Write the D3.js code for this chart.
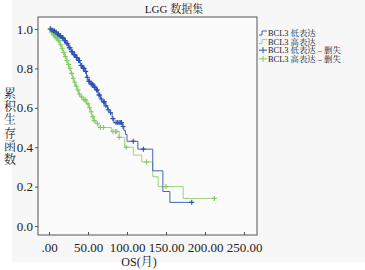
<!DOCTYPE html>
<html>
<head>
<meta charset="utf-8">
<script src="https://cdn.jsdelivr.net/npm/d3@7"></script>
<style>
  body { margin: 0; background: #fff; }
  svg { display: block; font-family: "Liberation Serif", "Noto Serif CJK SC", "Noto Sans CJK SC", serif; }
</style>
</head>
<body>
<svg id="chart" width="365" height="270"></svg>
<script>
// KM steps, low expression (time, survival after the drop)
const lowTimes = [0, 3, 5, 8, 10, 13, 16, 19, 22, 25, 28, 31, 34, 37, 40, 43, 46, 48, 50, 53, 57, 60, 63, 66, 68, 72, 75, 78, 81, 83, 94, 96, 98, 100, 114, 133, 146, 155];
const lowSurv = [1.0, 0.995, 0.99, 0.985, 0.975, 0.965, 0.955, 0.94, 0.925, 0.905, 0.885, 0.87, 0.855, 0.84, 0.815, 0.8, 0.785, 0.755, 0.735, 0.72, 0.705, 0.69, 0.665, 0.645, 0.63, 0.61, 0.59, 0.575, 0.545, 0.525, 0.505, 0.485, 0.465, 0.43, 0.39, 0.28, 0.175, 0.12];
const lowEnd = 183;
const lowCensor = [2, 4, 6, 7, 9, 11, 12, 14, 15, 17, 18, 20, 21, 23, 24, 26, 27, 29, 30, 32, 33, 35, 36, 38, 39, 41, 42, 44, 45, 47, 49, 51, 52, 54, 55, 56, 58, 59, 61, 62, 64, 65, 67, 70, 71, 73, 76, 79, 82, 86, 88, 90, 92, 93, 95, 108, 121, 183];

// KM steps, high expression
const highTimes = [0, 3, 6, 9, 11, 14, 16, 18, 20, 22, 24, 26, 28, 30, 32, 34, 36, 38, 40, 44, 48, 51, 53, 55, 57, 60, 64, 80, 90, 97, 108, 119, 133, 140, 172];
const highSurv = [1.0, 0.985, 0.97, 0.955, 0.94, 0.92, 0.9, 0.88, 0.86, 0.84, 0.82, 0.8, 0.775, 0.75, 0.73, 0.71, 0.69, 0.67, 0.655, 0.64, 0.62, 0.6, 0.58, 0.555, 0.535, 0.52, 0.5, 0.48, 0.45, 0.4, 0.36, 0.325, 0.25, 0.2, 0.14];
const highEnd = 212;
const highCensor = [1, 2, 3, 4, 5, 6, 7, 8, 9, 10, 12, 13, 15, 17, 19, 21, 23, 25, 27, 29, 31, 33, 35, 37, 39, 42, 45, 47, 50, 52, 54, 56, 58, 62, 66, 70, 82, 85, 87, 90, 99, 125, 150, 212];

const xTicks = [0, 50, 100, 150, 200, 250];
const yTicks = [0, 0.2, 0.4, 0.6, 0.8, 1.0];
const legendLabels = ["BCL3 低表达", "BCL3 高表达", "BCL3 低表达 – 删失", "BCL3 高表达 – 删失"];

const blue = "#3f63bd", blueMark = "#2b50b2";
const green = "#98d37a", greenMark = "#82c963";

const frame = { left: 38, top: 17, right: 257, bottom: 235 };

const svg = d3.select("#chart");

svg.append("rect").attr("x", 12).attr("y", 0).attr("width", 353).attr("height", 262).attr("fill", "#f7f7f7");
svg.append("rect")
  .attr("x", frame.left).attr("y", frame.top)
  .attr("width", frame.right - frame.left).attr("height", frame.bottom - frame.top)
  .attr("fill", "#fbfbfb").attr("stroke", "#555").attr("stroke-width", 1);

const x = d3.scaleLinear().domain([0, 250]).range([49, 244]);
const y = d3.scaleLinear().domain([0, 1]).range([226, 29]);

function steps(times, surv, end) {
  const pts = times.map((t, i) => [t, surv[i]]);
  pts.push([end, surv[surv.length - 1]]);
  return pts;
}
function survAt(times, surv, t) {
  let s = surv[0];
  times.forEach((tt, i) => { if (tt <= t) s = surv[i]; });
  return s;
}

const line = d3.line().x(d => x(d[0])).y(d => y(d[1])).curve(d3.curveStepAfter);

svg.append("path").datum(steps(highTimes, highSurv, highEnd))
  .attr("d", line).attr("fill", "none").attr("stroke", green).attr("stroke-width", 1);
svg.append("path").datum(steps(lowTimes, lowSurv, lowEnd))
  .attr("d", line).attr("fill", "none").attr("stroke", blue).attr("stroke-width", 1);

function cross(g, cx, cy, color) {
  g.append("path")
    .attr("d", `M${cx - 2.5},${cy}H${cx + 2.5}M${cx},${cy - 2.5}V${cy + 2.5}`)
    .attr("stroke", color).attr("stroke-width", 1.1);
}
const marks = svg.append("g");
highCensor.forEach(t => cross(marks, x(t), y(survAt(highTimes, highSurv, t)), greenMark));
lowCensor.forEach(t => cross(marks, x(t), y(survAt(lowTimes, lowSurv, t)), blueMark));

// axes
const xAxis = svg.append("g")
  .attr("transform", `translate(0,${frame.bottom})`)
  .call(d3.axisBottom(x).tickValues(xTicks).tickSize(-3).tickPadding(8)
    .tickFormat(d => d === 0 ? ".00" : d.toFixed(2)));
xAxis.select(".domain").remove();
xAxis.selectAll("line").attr("stroke", "#555");
xAxis.selectAll("text").attr("font-size", 13).attr("font-family", "Liberation Serif").attr("fill", "#222");

const yAxis = svg.append("g")
  .attr("transform", `translate(${frame.left},0)`)
  .call(d3.axisLeft(y).tickValues(yTicks).tickSize(3).tickPadding(2).tickFormat(d3.format(".1f")));
yAxis.select(".domain").remove();
yAxis.selectAll("line").attr("stroke", "#555");
yAxis.selectAll("text").attr("font-size", 13).attr("font-family", "Liberation Serif").attr("fill", "#222");

// titles
svg.append("text").attr("x", 174).attr("y", 13).attr("text-anchor", "middle")
  .attr("font-size", 11).attr("fill", "#222").text("LGG 数据集");
svg.append("text").attr("x", 139).attr("y", 266).attr("text-anchor", "middle")
  .attr("font-size", 12).attr("fill", "#222").text("OS(月)");

const yLabel = "累积生存函数".split("");
svg.append("g").selectAll("text").data(yLabel).enter().append("text")
  .attr("x", 10).attr("y", (d, i) => 98 + i * 13.2)
  .attr("text-anchor", "middle").attr("font-size", 12).attr("fill", "#222")
  .text(d => d);

// legend
const legend = svg.append("g").attr("transform", "translate(259,0)");
legendLabels.forEach((label, i) => {
  const cy = 33 + i * 8.6;
  const color = i % 2 === 0 ? blue : green;
  if (i < 2) {
    legend.append("path")
      .attr("d", `M0,${cy + 2}H3V${cy - 2}H8`)
      .attr("fill", "none").attr("stroke", color).attr("stroke-width", 1);
  } else {
    legend.append("path")
      .attr("d", `M0,${cy}H8M4,${cy - 3}V${cy + 3}`)
      .attr("stroke", i === 2 ? blueMark : greenMark).attr("stroke-width", 1);
  }
  legend.append("text").attr("x", 9).attr("y", cy + 3)
    .attr("font-size", 8.4).attr("fill", "#222").text(label);
});
</script>
</body>
</html>
